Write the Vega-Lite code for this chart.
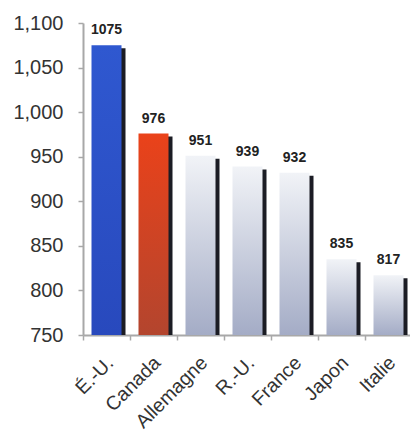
{
  "$schema": "https://vega.github.io/schema/vega-lite/v6.json",
  "autosize": {"type": "none"},
  "padding": {"left": 83, "top": 23, "right": 0, "bottom": 100},
  "width": 329,
  "height": 312,
  "background": "white",
  "data": {"values": [
    {"pays": "É.-U.", "valeur": 1075, "groupe": "us"},
    {"pays": "Canada", "valeur": 976, "groupe": "ca"},
    {"pays": "Allemagne", "valeur": 951, "groupe": "autre"},
    {"pays": "R.-U.", "valeur": 939, "groupe": "autre"},
    {"pays": "France", "valeur": 932, "groupe": "autre"},
    {"pays": "Japon", "valeur": 835, "groupe": "autre"},
    {"pays": "Italie", "valeur": 817, "groupe": "autre"}
  ]},
  "encoding": {
    "x": {"field": "pays", "type": "nominal", "sort": null,
      "scale": {"paddingInner": 0, "paddingOuter": 0},
      "axis": {"title": null, "labelAngle": -45, "labelFont": "Liberation Sans", "labelFontSize": 19.5,
        "labelColor": "#333333", "labelPadding": 13, "labelOffset": -3, "domainColor": "#a8a8a8", "domainWidth": 2,
        "tickColor": "#a8a8a8", "tickSize": 5, "tickWidth": 1.5, "tickBand": "extent", "bandPosition": 0}},
    "y": {"field": "valeur", "type": "quantitative",
      "scale": {"domain": [750, 1100], "zero": false, "nice": false},
      "axis": {"title": null, "values": [750, 800, 850, 900, 950, 1000, 1050, 1100], "format": ",d",
        "grid": false, "labelFont": "Liberation Sans", "labelFontSize": 20,
        "labelColor": "#333333", "labelPadding": 15, "domainColor": "#a8a8a8", "domainWidth": 2,
        "tickColor": "#a8a8a8", "tickSize": 5, "tickWidth": 1.5}}
  },
  "layer": [
    {"mark": {"type": "bar", "width": 30, "xOffset": 4, "yOffset": 3, "color": "#1b1c24", "clip": true},
     "encoding": {"y2": {"datum": 750}}},
    {"transform": [{"filter": "datum.groupe == 'us'"}],
     "mark": {"type": "bar", "width": 30, "color": {"gradient": "linear", "x1": 0, "y1": 0, "x2": 0, "y2": 1,
       "stops": [{"offset": 0, "color": "#2f58d0"}, {"offset": 1, "color": "#2849bd"}]}},
     "encoding": {"y2": {"datum": 750}}},
    {"transform": [{"filter": "datum.groupe == 'ca'"}],
     "mark": {"type": "bar", "width": 30, "color": {"gradient": "linear", "x1": 0, "y1": 0, "x2": 0, "y2": 1,
       "stops": [{"offset": 0, "color": "#ea421a"}, {"offset": 1, "color": "#b3452e"}]}},
     "encoding": {"y2": {"datum": 750}}},
    {"transform": [{"filter": "datum.groupe == 'autre'"}],
     "mark": {"type": "bar", "width": 30, "color": {"gradient": "linear", "x1": 0, "y1": 0, "x2": 0, "y2": 1,
       "stops": [{"offset": 0, "color": "#f1f3f7"}, {"offset": 1, "color": "#a4acc6"}]}},
     "encoding": {"y2": {"datum": 750}}},
    {"mark": {"type": "text", "baseline": "alphabetic", "dy": -11, "font": "Liberation Sans",
      "fontSize": 14, "fontWeight": "bold", "color": "#222222"},
     "encoding": {"text": {"field": "valeur", "type": "quantitative", "format": "d"}}}
  ],
  "config": {"view": {"stroke": null}}
}
